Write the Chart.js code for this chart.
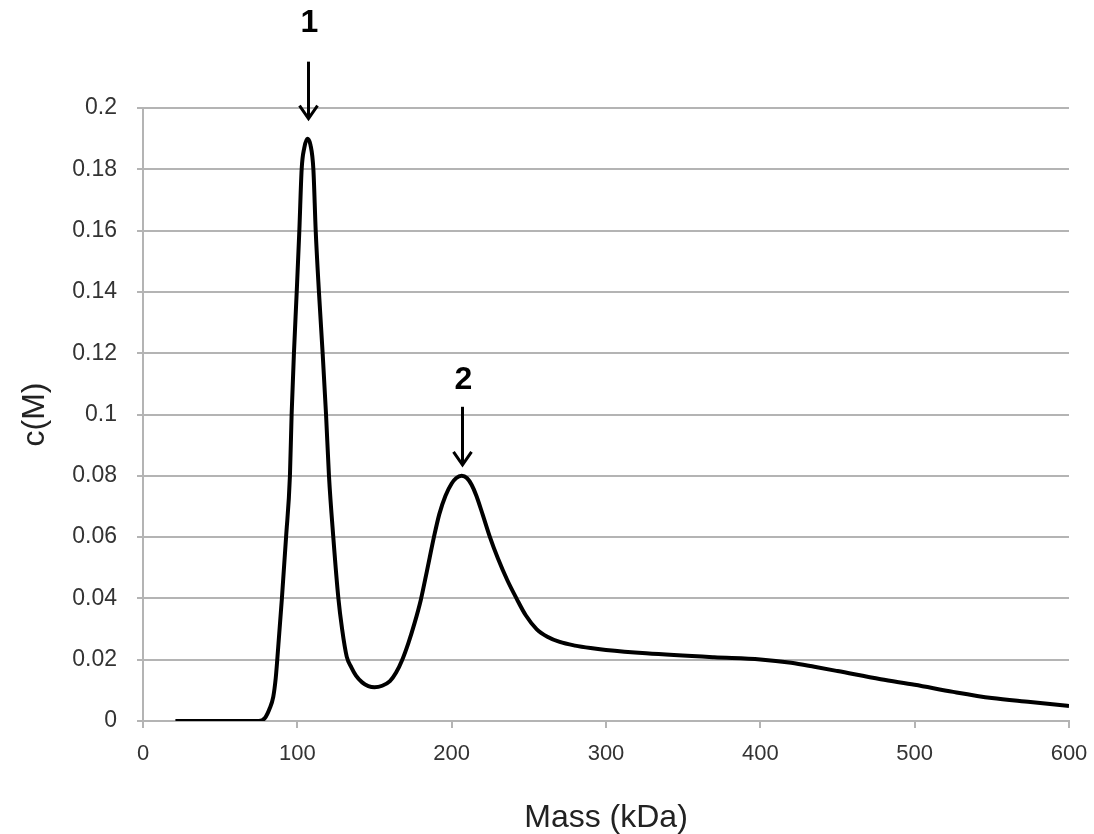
<!DOCTYPE html>
<html>
<head>
<meta charset="utf-8">
<script src="https://cdn.jsdelivr.net/npm/chart.js@4/dist/chart.umd.min.js"></script>
<style>
  html, body { margin: 0; padding: 0; background: #fff; }
  #wrap { width: 1094px; height: 834px; }
</style>
</head>
<body>
<div id="wrap"><canvas id="c" width="1094" height="834"></canvas></div>
<script>
// Data
const massKDa = [21, 40, 60, 75, 79, 82, 84.4, 86, 87, 90, 92.7, 95.2, 96.3, 97.8, 99.6, 101.3, 102.8, 104.5, 106.5, 108.5, 110.4, 111.9, 114, 116.4, 118.6, 120.5, 123.3, 126.6, 129, 132, 135, 138, 142, 146, 150, 155, 160, 164, 168, 172, 176, 180, 184, 188.5, 192, 196, 200, 203, 206.5, 210, 213, 216, 220, 224.8, 230, 236, 242, 248, 255, 262, 270, 280, 290, 300, 326, 370, 400, 420, 435, 450, 478, 500, 525, 550, 575, 600];
const cM = [0, 0, 0, 0, 0.001, 0.004, 0.0079, 0.014, 0.02, 0.04, 0.06, 0.08, 0.10, 0.12, 0.14, 0.16, 0.18, 0.187, 0.19, 0.188, 0.18, 0.16, 0.14, 0.12, 0.10, 0.08, 0.06, 0.04, 0.03, 0.021, 0.0175, 0.0148, 0.0126, 0.0114, 0.011, 0.0115, 0.013, 0.0158, 0.02, 0.0255, 0.032, 0.0395, 0.049, 0.06, 0.0675, 0.0735, 0.0775, 0.0793, 0.08, 0.0792, 0.077, 0.0735, 0.0675, 0.06, 0.053, 0.046, 0.04, 0.0345, 0.030, 0.0275, 0.0258, 0.0246, 0.0238, 0.0232, 0.0221, 0.0208, 0.0201, 0.019, 0.0177, 0.0163, 0.0136, 0.0118, 0.0095, 0.0075, 0.0062, 0.0049];
const xTicks = [0, 100, 200, 300, 400, 500, 600];
const yTicks = [0, 0.02, 0.04, 0.06, 0.08, 0.1, 0.12, 0.14, 0.16, 0.18, 0.2];
const peakLabels = ['1', '2'];
const peakMass = [107, 206.5];
const peakValue = [0.19, 0.08];

const points = massKDa.map((m, i) => ({ x: m, y: cM[i] }));

const arrowPlugin = {
  id: 'peakArrows',
  afterDraw(chart) {
    const ctx = chart.ctx;
    const xs = chart.scales.x, ys = chart.scales.y;
    // pixel offsets above each peak: [tip gap, arrow length, label gap]
    const gaps = [[20, 57, 115], [11, 58, 96]];
    ctx.save();
    peakLabels.forEach((lab, i) => {
      const px = Math.round(xs.getPixelForValue(peakMass[i])) + 0.5;
      const py = ys.getPixelForValue(peakValue[i]);
      const tip = py - gaps[i][0];
      const top = tip - gaps[i][1];
      ctx.strokeStyle = '#000';
      ctx.lineWidth = 3;
      ctx.beginPath();
      ctx.moveTo(px, top);
      ctx.lineTo(px, tip - 1);
      ctx.stroke();
      ctx.beginPath();
      ctx.moveTo(px - 9, tip - 13);
      ctx.lineTo(px, tip);
      ctx.lineTo(px + 9, tip - 13);
      ctx.stroke();
      ctx.fillStyle = '#000';
      ctx.font = 'bold 32px "Liberation Sans", Arial, sans-serif';
      ctx.textAlign = 'center';
      ctx.textBaseline = 'middle';
      ctx.fillText(lab, px + 1, py - gaps[i][2]);
    });
    ctx.restore();
  }
};

const gridColor = '#b4b4b4';
const fam = '"Liberation Sans", Arial, sans-serif';

new Chart(document.getElementById('c'), {
  type: 'line',
  data: {
    datasets: [{
      data: points,
      borderColor: '#000',
      borderWidth: 4,
      pointRadius: 0,
      fill: false,
      cubicInterpolationMode: 'monotone'
    }]
  },
  options: {
    responsive: false,
    animation: false,
    layout: { padding: { top: 108, right: 25, left: 0, bottom: 0 } },
    plugins: { legend: { display: false }, tooltip: { enabled: false } },
    scales: {
      x: {
        type: 'linear',
        min: 0, max: 600,
        afterBuildTicks(s) { s.ticks = xTicks.map(v => ({ value: v })); },
        afterFit(s) { s.height = 113; s.paddingRight = 0; s.paddingLeft = 0; },
        grid: { drawOnChartArea: false, color: gridColor, lineWidth: 2, tickLength: 7 },
        border: { color: gridColor, width: 2 },
        ticks: { color: '#333', padding: 13, font: { family: fam, size: 22 }, maxRotation: 0 },
        title: { display: true, text: 'Mass (kDa)', color: '#222', padding: 0, font: { family: fam, size: 32, lineHeight: 1 } }
      },
      y: {
        min: 0, max: 0.2,
        afterBuildTicks(s) { s.ticks = yTicks.map(v => ({ value: v })); },
        afterFit(s) { s.width = 143; s.paddingTop = 0; s.paddingBottom = 0; },
        grid: { color: gridColor, lineWidth: 2, tickLength: 6 },
        border: { color: gridColor, width: 2 },
        ticks: {
          color: '#333', padding: 20,
          font: { family: fam, size: 23 },
          callback: v => String(Number(v.toFixed(2)))
        },
        title: { display: true, text: 'c(M)', color: '#222', padding: { top: 19, bottom: 0 }, font: { family: fam, size: 32, lineHeight: 1 } }
      }
    }
  },
  plugins: [arrowPlugin]
});
</script>
</body>
</html>
